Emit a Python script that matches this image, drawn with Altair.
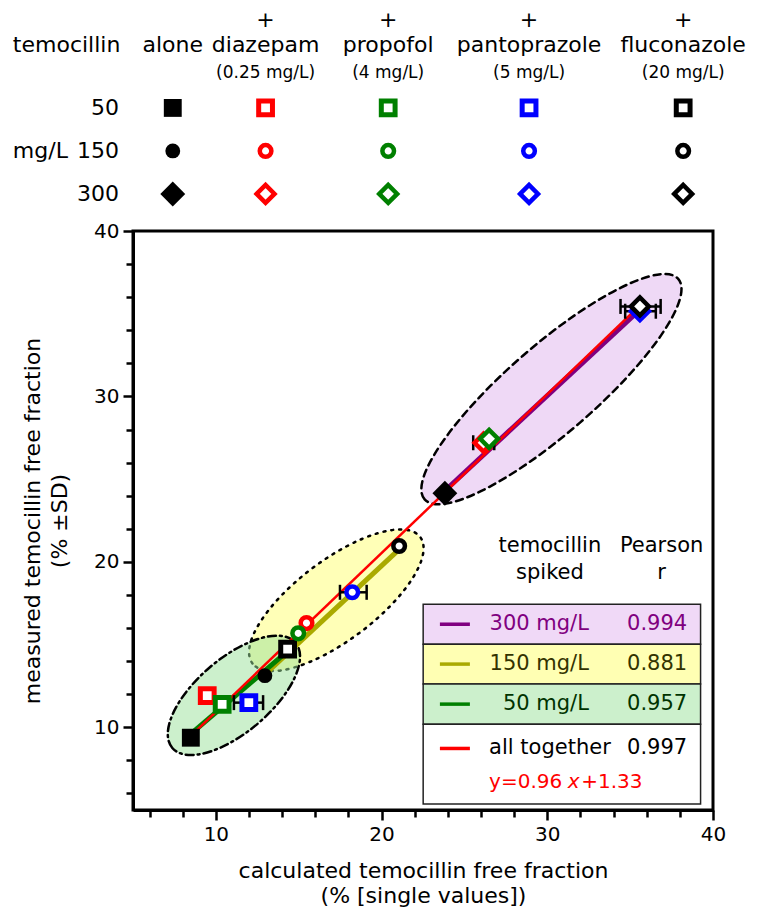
import altair as alt
import pandas as pd

FONT = "DejaVu Sans"

# ---------------- data ----------------
drugs = ["alone", "diazepam", "propofol", "pantoprazole", "fluconazole"]
drug_doses = ["", "(0.25 mg/L)", "(4 mg/L)", "(5 mg/L)", "(20 mg/L)"]
drug_stroke = ["black", "#FF0000", "#008000", "#0000FF", "black"]
drug_fill = ["black", "white", "white", "white", "white"]
concs = [50, 150, 300]
conc_labels = ["50", "150", "300"]
conc_shapes = ["square", "circle", "diamond"]

calc_50 = [8.49, 9.48, 10.38, 11.99, 14.33]
meas_50 = [9.37, 11.91, 11.39, 11.49, 14.73]
calc_150 = [12.96, 15.47, 14.97, 18.23, 21.06]
meas_150 = [13.12, 16.30, 15.68, 18.16, 20.96]
calc_300 = [23.82, 26.15, 26.49, 35.59, 35.59]
meas_300 = [24.15, 27.20, 27.44, 35.15, 35.44]

# horizontal error bars (x range) at measured y
err_y = [11.49, 18.16, 27.20, 35.15, 35.44]
err_lo = [11.09, 17.49, 25.53, 34.70, 34.42]
err_hi = [12.85, 19.10, 26.80, 36.55, 36.84]

# regression lines (end points)
fit_names = ["300 mg/L", "150 mg/L", "50 mg/L", "all together"]
fit_colors = ["#800080", "#AAAA00", "#008000", "#FF0000"]
fit_x1 = [23.82, 12.96, 8.49, 8.49]
fit_y1 = [24.30, 13.20, 9.60, 9.48]
fit_x2 = [35.59, 21.06, 14.33, 35.59]
fit_y2 = [35.25, 20.75, 14.60, 35.50]
fit_r = ["0.994", "0.881", "0.957", "0.997"]
equation_parts = ["y=0.96", "x", "+1.33"]

# group ellipses: centre (data), half axes (px), tilt (deg)
ell_cx = [30.25, 17.27, 11.09]
ell_cy = [30.44, 17.68, 11.93]
ell_a = [168, 105, 81]
ell_b = [44, 40, 37]
ell_tilt = [41, 37, 40.5]
ell_fill = ["#DFB3ED", "#FFFF6F", "#99E199"]
ell_dash = [[7, 5], [2, 6], [8, 4, 2, 4]]

# ---------------- layout (data units) ----------------
leg_col_x = [7.4, 13.0, 20.4, 28.9, 38.2]
leg_row_y = [47.44, 44.84, 42.24]
leg_plus_y = 52.75
leg_head_y = 51.25
leg_dose_y = 49.56
leg_left_x = -2.25
leg_rowlab_x = 4.15

box_x = [22.51, 39.25]
box_y = [17.44, 15.02, 12.61, 10.19, 5.36]
box_fill = ["#F0D9F7", "#FFFFB3", "#CCF0CC", "white"]
box_text_y = [16.23, 13.82, 11.40, 8.72]
box_text_col = ["#800080", "#333300", "#003300", "black"]
eq_y = 6.71
eq_x = [26.49, 31.24, 32.05]

xs = alt.Scale(domain=[5, 40], nice=False, zero=False)
ys = alt.Scale(domain=[5, 40], nice=False, zero=False)
cond_tick = {"condition": {"test": "datum.value % 10 === 0", "value": 10}, "value": 7}
common_axis = dict(values=list(range(6, 41, 2)),
                   labelExpr="datum.value % 10 === 0 ? datum.label : ''",
                   tickSize=cond_tick, grid=False, domainWidth=3, tickWidth=2.5,
                   domainColor="black", tickColor="black", labelColor="black",
                   titleColor="black", labelFont=FONT, titleFont=FONT,
                   labelFontSize=20, titleFontSize=22, titleFontWeight="normal",
                   labelFlush=False)
xaxis = alt.Axis(title=["calculated temocillin free fraction", "(% [single values])"],
                 labelPadding=4, titlePadding=16, titleLineHeight=25, **common_axis)
yaxis = alt.Axis(title=["measured temocillin free fraction", "(% ±SD)"],
                 labelPadding=4, titlePadding=22, titleLineHeight=27, **common_axis)
X = alt.X("x:Q", scale=xs, axis=xaxis)
Y = alt.Y("y:Q", scale=ys, axis=yaxis)

layers = []

# ellipses
def ellipse_path(r):
    k = 0.5523
    return (f"M -1 0 C -1 {-k*r:.4f} {-k:.4f} {-r:.4f} 0 {-r:.4f} "
            f"C {k:.4f} {-r:.4f} 1 {-k*r:.4f} 1 0 "
            f"C 1 {k*r:.4f} {k:.4f} {r:.4f} 0 {r:.4f} "
            f"C {-k:.4f} {r:.4f} -1 {k*r:.4f} -1 0 Z")

for cx, cy, a, b, t, f, d in zip(ell_cx, ell_cy, ell_a, ell_b, ell_tilt, ell_fill, ell_dash):
    layers.append(
        alt.Chart(pd.DataFrame({"x": [cx], "y": [cy]})).mark_point(
            shape=ellipse_path(b / a), size=(2 * a) ** 2, angle=360 - t,
            filled=True, fill=f, fillOpacity=0.5, stroke="black", strokeWidth=2.5,
            strokeDash=d, strokeCap="round", opacity=1
        ).encode(x=X, y=Y)
    )

# regression lines
fit_df = pd.DataFrame({"name": fit_names, "col": fit_colors, "x": fit_x1, "y": fit_y1,
                       "x2": fit_x2, "y2": fit_y2})
layers.append(alt.Chart(fit_df.iloc[:3]).mark_rule(strokeWidth=5).encode(
    x=X, y=Y, x2="x2:Q", y2="y2:Q", color=alt.Color("col:N", scale=None)))
layers.append(alt.Chart(fit_df.iloc[3:]).mark_rule(strokeWidth=2.5).encode(
    x=X, y=Y, x2="x2:Q", y2="y2:Q", color=alt.Color("col:N", scale=None)))

# error bars
err_df = pd.DataFrame({"y": err_y, "x": err_lo, "x2": err_hi})
layers.append(alt.Chart(err_df).mark_rule(color="black", strokeWidth=2.5).encode(
    x=X, y=Y, x2="x2:Q"))
cap_df = pd.DataFrame({"y": err_y * 2, "x": err_lo + err_hi})
layers.append(alt.Chart(cap_df).mark_tick(orient="vertical", color="black", size=15,
                                          thickness=2.5, opacity=1).encode(x=X, y=Y))

# points in plot and in the top legend table
rows = []
for c, xs_, ys_ in zip(concs, [calc_50, calc_150, calc_300], [meas_50, meas_150, meas_300]):
    for dname, xv, yv in zip(drugs, xs_, ys_):
        rows.append({"conc": c, "drug": dname, "x": xv, "y": yv})
pts = pd.DataFrame(rows)
leg_rows = []
for c, ry in zip(concs, leg_row_y):
    for dname, cx in zip(drugs, leg_col_x):
        leg_rows.append({"conc": c, "drug": dname, "x": cx, "y": ry})
leg_pts = pd.DataFrame(leg_rows)

sym_sizes = {"square": (320, 190, 5), "circle": (220, 135, 4.5), "diamond": (620, 320, 4.5)}
stroke_enc = alt.Stroke("drug:N", scale=alt.Scale(domain=drugs, range=drug_stroke), legend=None)
fill_enc = alt.Fill("drug:N", scale=alt.Scale(domain=drugs, range=drug_fill), legend=None)
for df in (pts, leg_pts):
    for c, shp in zip(concs, conc_shapes):
        sf, so, sw = sym_sizes[shp]
        layers.append(
            alt.Chart(df[df.conc == c]).mark_point(shape=shp, opacity=1).encode(
                x=X, y=Y, stroke=stroke_enc, fill=fill_enc,
                size=alt.condition(alt.datum.drug == "alone", alt.value(sf), alt.value(so)),
                strokeWidth=alt.condition(alt.datum.drug == "alone", alt.value(0), alt.value(sw)),
            )
        )

def text_layer(df, **kw):
    enc = dict(x=X, y=Y, text="t:N")
    if "col" in df.columns:
        enc["color"] = alt.Color("col:N", scale=None)
    return alt.Chart(df).mark_text(font=FONT, baseline="middle", **kw).encode(**enc)

# top legend texts
layers.append(text_layer(pd.DataFrame({"x": leg_col_x[1:], "y": [leg_plus_y] * 4, "t": ["+"] * 4}),
                         fontSize=22, color="black"))
layers.append(text_layer(pd.DataFrame({"x": leg_col_x, "y": [leg_head_y] * 5, "t": drugs}),
                         fontSize=22, color="black"))
layers.append(text_layer(pd.DataFrame({"x": leg_col_x[1:], "y": [leg_dose_y] * 4, "t": drug_doses[1:]}),
                         fontSize=17, color="black"))
layers.append(text_layer(pd.DataFrame({"x": [leg_left_x, leg_left_x], "y": [leg_head_y, leg_row_y[1]],
                                       "t": ["temocillin", "mg/L"]}),
                         fontSize=22, color="black", align="left"))
layers.append(text_layer(pd.DataFrame({"x": [leg_rowlab_x] * 3, "y": leg_row_y, "t": conc_labels}),
                         fontSize=22, color="black", align="right"))

# inset legend box
box_df = pd.DataFrame({"x": [box_x[0]] * 4, "x2": [box_x[1]] * 4, "y": box_y[:-1], "y2": box_y[1:],
                       "f": box_fill})
layers.append(alt.Chart(box_df).mark_rect(stroke="#222222", strokeWidth=1.5).encode(
    x=X, y=Y, x2="x2:Q", y2="y2:Q", fill=alt.Fill("f:N", scale=None)))
sw_df = pd.DataFrame({"x": [23.52] * 4, "x2": [25.33] * 4, "y": box_text_y, "col": fit_colors})
layers.append(alt.Chart(sw_df).mark_rule(strokeWidth=3.5).encode(
    x=X, y=Y, x2="x2:Q", color=alt.Color("col:N", scale=None)))
layers.append(text_layer(pd.DataFrame({"x": [32.51] * 3, "y": box_text_y[:3], "t": fit_names[:3],
                                       "col": box_text_col[:3]}), fontSize=21, align="right"))
layers.append(text_layer(pd.DataFrame({"x": [26.49], "y": box_text_y[3:], "t": fit_names[3:],
                                       "col": box_text_col[3:]}), fontSize=21, align="left"))
layers.append(text_layer(pd.DataFrame({"x": [38.44] * 4, "y": box_text_y, "t": fit_r,
                                       "col": box_text_col}), fontSize=21, align="right"))
layers.append(text_layer(pd.DataFrame({"x": [eq_x[0], eq_x[2]], "y": [eq_y, eq_y],
                                       "t": [equation_parts[0], equation_parts[2]]}),
                         fontSize=20, align="left", color="#FF0000"))
layers.append(text_layer(pd.DataFrame({"x": [eq_x[1]], "y": [eq_y], "t": [equation_parts[1]]}),
                         fontSize=20, align="left", color="#FF0000", fontStyle="italic"))
layers.append(text_layer(pd.DataFrame({"x": [30.16, 30.16, 36.9, 36.9], "y": [20.93, 19.31, 20.93, 19.31],
                                       "t": ["temocillin", "spiked", "Pearson", "r"]}),
                         fontSize=21, color="black"))

chart = alt.layer(*layers).properties(
    width=580, height=579, background="white",
    autosize=alt.AutoSizeParams(type="none"),
    padding={"left": 125, "top": 223, "right": 37, "bottom": 100},
).configure_view(stroke="black", strokeWidth=3)

chart.save("out.html", embed_options={"renderer": "svg", "actions": False})
